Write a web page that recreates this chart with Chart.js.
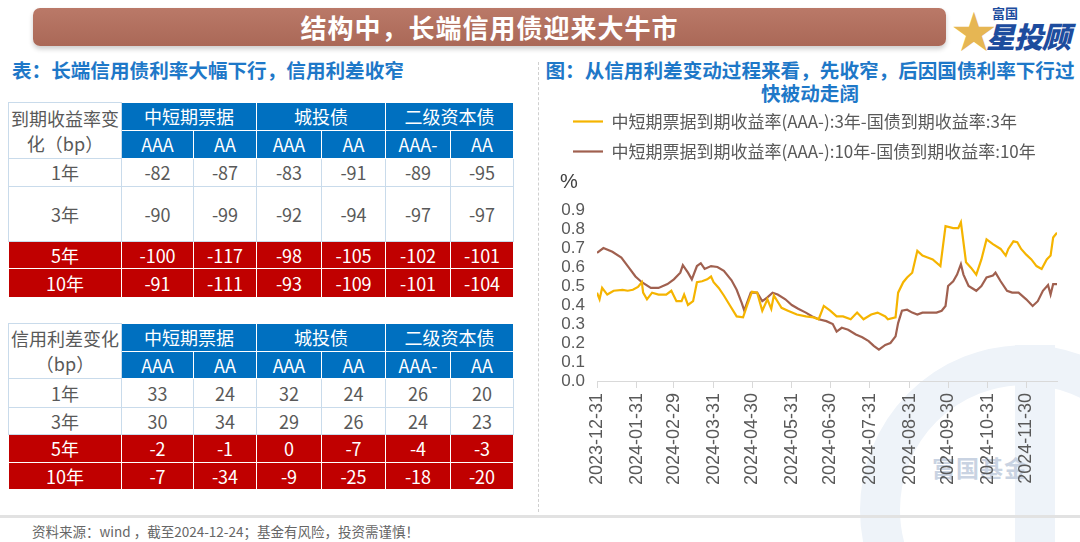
<!DOCTYPE html>
<html lang="zh-CN">
<head>
<meta charset="utf-8">
<title>结构中，长端信用债迎来大牛市</title>
<script src="https://cdn.jsdelivr.net/npm/chart.js@4.4.1/dist/chart.umd.min.js"></script>
<style>
  html, body { margin: 0; padding: 0; }
  body {
    width: 1080px; height: 542px; position: relative; overflow: hidden; background: #fff;
    font-family: "Noto Sans CJK SC", "Noto Sans", sans-serif;
  }
  .banner {
    position: absolute; left: 33px; top: 8px; width: 913px; height: 38px; border-radius: 7px;
    background: linear-gradient(#ba7968, #aa6857); box-shadow: 0 3px 5px rgba(0,0,0,.2);
    color: #fff; font-weight: 700; font-size: 26px; line-height: 38px; text-align: center; letter-spacing: 1px;
  }
  .logo { position: absolute; left: 946px; top: 0; width: 134px; height: 56px; }
  .logo .star { position: absolute; left: 6px; top: -3px; font-size: 44px; color: #e6b653; }
  .logo .fg { position: absolute; left: 46px; top: 3px; font-size: 13px; font-weight: 700; color: #1d4c9e; }
  .logo .xtg { position: absolute; left: 40px; top: 14px; font-size: 29px; font-weight: 900; font-style: italic; color: #1d4c9e; letter-spacing: -1px; }
  .head { position: absolute; color: #1e78c8; font-weight: 700; font-size: 19.6px; line-height: 23px; }
  .divider { position: absolute; left: 538px; top: 62px; height: 450px; border-left: 1.5px dashed #cfcfcf; }
  table.tb {
    position: absolute; left: 8px; border-collapse: collapse; table-layout: fixed;
    font-size: 18px; color: #595959; background: #fff;
  }
  table.tb td { padding: 0; text-align: center; vertical-align: middle; border: 1px solid #c9dbeb; line-height: 1.05; }
  table.tb td.h { background: #0070c0; color: #fff; border-color: #fff; }
  table.tb tr.red td { background: #c00000; color: #fff; border-color: #fff; }
  table.tb td.corner { line-height: 25px; }
  .wm-ring { position: absolute; left: 860px; top: 345px; width: 250px; height: 250px; border-radius: 50%; border: 40px solid #eef3f9; }
  .wm-bar { position: absolute; left: 1015px; top: 345px; width: 40px; height: 200px; background: #eef3f9; }
  .wm-text { position: absolute; left: 932px; top: 450px; font-size: 23px; font-weight: 700; color: #c9d3e2; letter-spacing: 1px; }
  .chartbox { position: absolute; left: 560px; top: 100px; width: 515px; height: 400px; }
  .footline { position: absolute; left: 0; top: 515px; width: 1080px; height: 3px; background: #e2e2e2; }
  .foot { position: absolute; left: 32px; top: 521px; font-size: 13.5px; color: #666; }
</style>
</head>
<body>
<div class="wm-ring"></div>
<div class="wm-bar"></div>
<div class="wm-text">富国基金</div>

<div class="banner">结构中，长端信用债迎来大牛市</div>
<div class="logo"><span class="star">★</span><span class="fg">富国</span><span class="xtg">星投顾</span></div>

<div class="head" style="left:12px; top:58px;">表：长端信用债利率大幅下行，信用利差收窄</div>
<div class="head" style="left:540px; top:58px; width:540px; text-align:center;">图：从信用利差变动过程来看，先收窄，后因国债利率下行过<br>快被动走阔</div>
<div class="divider"></div>

<table class="tb" id="t1" style="top:102px;"></table>
<table class="tb" id="t2" style="top:323px;"></table>

<div class="chartbox"><canvas id="spread"></canvas></div>

<div class="footline"></div>
<div class="foot">资料来源：wind ，截至2024-12-24；基金有风险，投资需谨慎！</div>

<script>
// ---- table data ----
const groupNames = ['中短期票据', '城投债', '二级资本债'];
const ratingNames = ['AAA', 'AA', 'AAA', 'AA', 'AAA-', 'AA'];
const tenorNames = ['1年', '3年', '5年', '10年'];
const yieldChange = [
  [-82, -87, -83, -91, -89, -95],
  [-90, -99, -92, -94, -97, -97],
  [-100, -117, -98, -105, -102, -101],
  [-91, -111, -93, -109, -101, -104]
];
const spreadChange = [
  [33, 24, 32, 24, 26, 20],
  [30, 34, 29, 26, 24, 23],
  [-2, -1, 0, -7, -4, -3],
  [-7, -34, -9, -25, -18, -20]
];

// ---- chart data ----
const seriesNames = [
  '中短期票据到期收益率(AAA-):3年-国债到期收益率:3年',
  '中短期票据到期收益率(AAA-):10年-国债到期收益率:10年'
];
const dates3y = [
  '2023-12-31', '2024-01-02', '2024-01-04', '2024-01-08', '2024-01-13', '2024-01-20', '2024-01-24', '2024-01-28',
  '2024-02-01', '2024-02-04', '2024-02-05', '2024-02-08', '2024-02-12', '2024-02-17', '2024-02-23', '2024-02-27',
  '2024-03-02', '2024-03-06', '2024-03-08', '2024-03-11', '2024-03-15', '2024-03-18', '2024-03-22', '2024-03-26',
  '2024-03-29', '2024-03-31', '2024-04-04', '2024-04-08', '2024-04-13', '2024-04-18', '2024-04-23', '2024-04-26',
  '2024-04-30', '2024-05-04', '2024-05-08', '2024-05-12', '2024-05-15', '2024-05-17', '2024-05-23', '2024-05-28',
  '2024-06-04', '2024-06-11', '2024-06-17', '2024-06-21', '2024-06-25', '2024-06-30', '2024-07-05', '2024-07-10',
  '2024-07-16', '2024-07-21', '2024-07-26', '2024-08-01', '2024-08-06', '2024-08-12', '2024-08-14', '2024-08-20',
  '2024-08-22', '2024-08-26', '2024-08-29', '2024-09-02', '2024-09-06', '2024-09-10', '2024-09-14', '2024-09-18',
  '2024-09-24', '2024-09-28', '2024-10-04', '2024-10-08', '2024-10-10', '2024-10-14', '2024-10-18', '2024-10-22',
  '2024-10-26', '2024-10-30', '2024-11-04', '2024-11-10', '2024-11-14', '2024-11-16', '2024-11-20', '2024-11-23',
  '2024-11-26', '2024-11-30', '2024-12-04', '2024-12-08', '2024-12-12', '2024-12-16', '2024-12-19', '2024-12-21',
  '2024-12-24'
];
const spread3y = [
  0.465, 0.43, 0.49, 0.455, 0.475, 0.48, 0.475, 0.48,
  0.495, 0.52, 0.465, 0.43, 0.465, 0.455, 0.455, 0.475,
  0.42, 0.42, 0.455, 0.40, 0.42, 0.52, 0.525, 0.535,
  0.55, 0.52, 0.49, 0.45, 0.395, 0.34, 0.335, 0.395,
  0.47, 0.465, 0.37, 0.43, 0.38, 0.45, 0.385, 0.37,
  0.35, 0.34, 0.335, 0.325, 0.395, 0.37, 0.34, 0.34,
  0.325, 0.36, 0.325, 0.35, 0.36, 0.34, 0.325, 0.335,
  0.465, 0.52, 0.545, 0.57, 0.685, 0.66, 0.65, 0.64,
  0.605, 0.815, 0.805, 0.805, 0.835, 0.625, 0.595, 0.56,
  0.64, 0.745, 0.72, 0.695, 0.66, 0.695, 0.735, 0.73,
  0.695, 0.665, 0.64, 0.605, 0.59, 0.64, 0.66, 0.755,
  0.78
];
const dates10y = [
  '2023-12-31', '2024-01-05', '2024-01-12', '2024-01-19', '2024-01-24', '2024-01-30', '2024-02-04', '2024-02-11',
  '2024-02-17', '2024-02-24', '2024-02-29', '2024-03-05', '2024-03-07', '2024-03-11', '2024-03-14', '2024-03-18',
  '2024-03-21', '2024-03-24', '2024-03-29', '2024-04-03', '2024-04-08', '2024-04-14', '2024-04-18', '2024-04-22',
  '2024-04-24', '2024-04-26', '2024-04-29', '2024-05-04', '2024-05-08', '2024-05-12', '2024-05-16', '2024-05-20',
  '2024-05-26', '2024-05-31', '2024-06-05', '2024-06-11', '2024-06-16', '2024-06-21', '2024-06-27', '2024-07-02',
  '2024-07-05', '2024-07-09', '2024-07-14', '2024-07-20', '2024-07-25', '2024-07-30', '2024-08-03', '2024-08-07',
  '2024-08-12', '2024-08-16', '2024-08-20', '2024-08-22', '2024-08-25', '2024-08-29', '2024-09-02', '2024-09-06',
  '2024-09-10', '2024-09-15', '2024-09-21', '2024-09-25', '2024-09-28', '2024-09-30', '2024-10-04', '2024-10-07',
  '2024-10-10', '2024-10-12', '2024-10-16', '2024-10-22', '2024-10-26', '2024-10-30', '2024-11-04', '2024-11-06',
  '2024-11-10', '2024-11-15', '2024-11-19', '2024-11-24', '2024-11-30', '2024-12-05', '2024-12-09', '2024-12-13',
  '2024-12-17', '2024-12-19', '2024-12-21', '2024-12-24'
];
const spread10y = [
  0.675, 0.70, 0.68, 0.65, 0.605, 0.55, 0.52, 0.49,
  0.49, 0.51, 0.535, 0.57, 0.61, 0.57, 0.535, 0.605,
  0.62, 0.59, 0.605, 0.60, 0.58, 0.53, 0.48, 0.41,
  0.37, 0.41, 0.465, 0.465, 0.42, 0.44, 0.465, 0.455,
  0.43, 0.40, 0.38, 0.36, 0.34, 0.325, 0.315, 0.30,
  0.26, 0.28, 0.27, 0.245, 0.23, 0.21, 0.185, 0.165,
  0.19, 0.20, 0.235, 0.305, 0.37, 0.375, 0.36, 0.35,
  0.36, 0.36, 0.36, 0.37, 0.395, 0.50, 0.525, 0.56,
  0.615, 0.56, 0.50, 0.475, 0.50, 0.545, 0.555, 0.57,
  0.525, 0.475, 0.465, 0.465, 0.43, 0.395, 0.42, 0.475,
  0.505, 0.455, 0.51, 0.51
];
const tickDates = [
  '2023-12-31', '2024-01-31', '2024-02-29', '2024-03-31', '2024-04-30', '2024-05-31',
  '2024-06-30', '2024-07-31', '2024-08-31', '2024-09-30', '2024-10-31', '2024-11-30'
];
const yTicks = [0, 0.1, 0.2, 0.3, 0.4, 0.5, 0.6, 0.7, 0.8, 0.9];

// ---- tables ----
const colWidths = [113, 72, 63, 65, 64, 65, 63];

function buildTable(id, cornerLines, values, rowHeights) {
  let html = '<colgroup>' + colWidths.map(w => '<col style="width:' + w + 'px">').join('') + '</colgroup>';
  html += '<tr style="height:' + rowHeights[0] + 'px"><td class="corner" rowspan="2">' + cornerLines.join('<br>') + '</td>';
  html += groupNames.map(g => '<td class="h" colspan="2">' + g + '</td>').join('') + '</tr>';
  html += '<tr style="height:' + rowHeights[1] + 'px">' + ratingNames.map(r => '<td class="h">' + r + '</td>').join('') + '</tr>';
  values.forEach((row, i) => {
    html += '<tr class="' + (i >= 2 ? 'red' : '') + '" style="height:' + rowHeights[i + 2] + 'px">';
    html += '<td>' + tenorNames[i] + '</td>' + row.map(v => '<td>' + v + '</td>').join('') + '</tr>';
  });
  document.getElementById(id).innerHTML = html;
}

buildTable('t1', ['到期收益率变', '化（bp）'], yieldChange, [28, 28, 28, 55, 27, 29]);
buildTable('t2', ['信用利差变化', '（bp）'], spreadChange, [28, 27, 29, 27, 28, 27]);

// ---- chart ----
const DAY = 86400000;
const START = Date.parse(tickDates[0]);
const dayOf = s => (Date.parse(s) - START) / DAY;

const axisFont = { family: '"Liberation Sans", Arial, sans-serif', size: 17 };

new Chart(document.getElementById('spread'), {
  type: 'line',
  data: {
    datasets: [
      {
        label: seriesNames[0],
        data: dates3y.map((d, i) => ({ x: dayOf(d), y: spread3y[i] })),
        borderColor: '#f5b400',
        backgroundColor: '#f5b400',
        borderWidth: 2.2,
        pointRadius: 0,
        tension: 0
      },
      {
        label: seriesNames[1],
        data: dates10y.map((d, i) => ({ x: dayOf(d), y: spread10y[i] })),
        borderColor: '#a0604f',
        backgroundColor: '#a0604f',
        borderWidth: 2.2,
        pointRadius: 0,
        tension: 0
      }
    ]
  },
  options: {
    responsive: true,
    maintainAspectRatio: false,
    animation: false,
    devicePixelRatio: 1,
    layout: { padding: { left: 0, right: 18, top: 0, bottom: 0 } },
    plugins: {
      legend: {
        position: 'top',
        align: 'start',
        labels: {
          usePointStyle: true,
          pointStyle: 'line',
          pointStyleWidth: 30,
          padding: 13,
          color: '#595959',
          font: { family: '"Noto Sans CJK SC", sans-serif', size: 17 }
        }
      },
      title: {
        display: true,
        text: '%',
        align: 'start',
        weight: 100,
        color: '#404040',
        font: { family: '"Liberation Sans", Arial, sans-serif', size: 20, weight: 'normal' },
        padding: { top: 0, bottom: 16 }
      },
      tooltip: { enabled: false }
    },
    scales: {
      x: {
        type: 'linear',
        min: 0,
        max: dayOf(dates3y[dates3y.length - 1]),
        afterBuildTicks: scale => { scale.ticks = tickDates.map(d => ({ value: dayOf(d) })); },
        afterFit: scale => { scale.height = 119; },
        border: { color: '#d9d9d9', width: 1 },
        grid: { drawOnChartArea: false, drawTicks: true, tickLength: 7, color: '#d9d9d9' },
        ticks: {
          autoSkip: false,
          maxRotation: 90,
          minRotation: 90,
          padding: 5,
          color: '#595959',
          font: { family: '"Liberation Sans", Arial, sans-serif', size: 18 },
          callback: (v, i) => tickDates[i]
        }
      },
      y: {
        min: 0,
        max: 0.9,
        afterBuildTicks: scale => { scale.ticks = yTicks.map(v => ({ value: v })); },
        afterFit: scale => { scale.width = 37; },
        border: { display: false },
        grid: { display: false, drawTicks: false },
        ticks: {
          autoSkip: false,
          padding: 12,
          color: '#595959',
          font: axisFont,
          callback: v => v.toFixed(1)
        }
      }
    }
  }
});
</script>
</body>
</html>
